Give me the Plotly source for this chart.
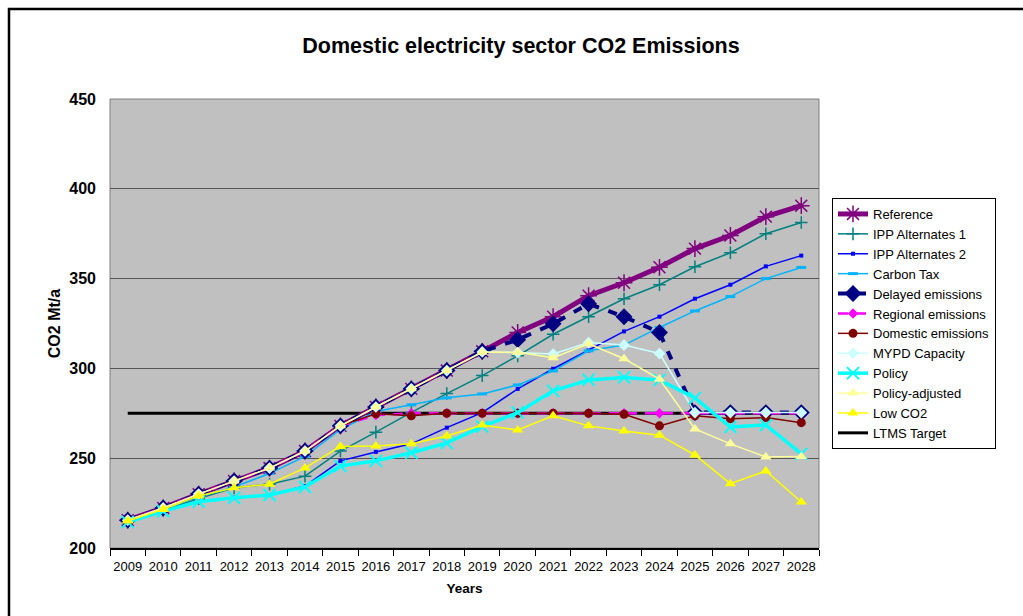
import plotly.graph_objects as go

years = [str(y) for y in range(2009, 2029)]

reference = [215.5, 222.3, 230.0, 237.3, 244.5, 254.0, 268.0, 278.5, 288.6, 298.8,
             309.5, 320.0, 328.8, 340.5, 347.7, 356.3, 366.7, 374.0, 384.5, 390.6]
ipp_alt1 = [215.0, 221.0, 227.5, 233.5, 235.5, 240.0, 254.0, 264.5, 275.5, 286.0,
            296.0, 307.0, 319.0, 328.8, 338.8, 346.6, 356.6, 364.4, 375.0, 381.2]
ipp_alt2 = [214.5, 220.5, 226.0, 228.0, 229.5, 234.5, 248.5, 253.5, 258.0, 267.0,
            275.4, 288.6, 299.8, 310.0, 320.6, 328.8, 338.8, 346.6, 356.8, 362.8]
carbon_tax = [215.0, 221.5, 228.5, 234.0, 241.5, 251.0, 266.0, 276.0, 279.7, 283.6,
              285.8, 290.8, 298.6, 309.8, 313.0, 322.8, 332.0, 340.0, 350.0, 356.2]
delayed = [215.5, 222.3, 230.0, 237.3, 244.5, 254.0, 268.0, 278.5, 288.6, 298.8,
           309.5, 316.0, 324.8, 336.0, 328.8, 320.0, 275.4, 275.4, 275.4, 275.4]
regional = [215.5, 222.3, 230.0, 237.3, 244.5, 254.0, 268.0, 274.0, 275.0, 275.0,
            275.0, 275.0, 275.0, 275.0, 275.0, 275.0, 275.0, 275.0, 275.0, 275.0]
domestic = [215.5, 222.3, 230.0, 237.3, 244.5, 254.0, 268.0, 274.7, 273.6, 275.0,
            275.0, 275.0, 275.0, 275.0, 274.5, 268.0, 273.6, 272.0, 272.6, 269.8]
mypd = [215.5, 222.3, 230.0, 237.3, 244.5, 254.0, 268.0, 278.5, 288.6, 298.8,
        309.2, 308.8, 308.0, 314.4, 313.0, 308.3, 275.4, 275.4, 275.4, 275.4]
policy = [214.5, 220.5, 225.8, 228.0, 229.5, 234.0, 245.7, 248.5, 253.0, 258.5,
          267.6, 275.4, 287.5, 293.6, 295.0, 293.6, 283.6, 267.4, 268.5, 252.4]
policy_adj = [215.5, 222.3, 230.0, 237.3, 244.5, 254.0, 268.0, 278.5, 288.6, 298.8,
              309.0, 309.0, 305.9, 313.7, 305.4, 294.0, 266.3, 258.0, 250.7, 251.0]
low_co2 = [215.0, 221.5, 229.0, 233.5, 235.5, 244.6, 256.5, 256.8, 258.0, 262.4,
           268.5, 265.7, 273.6, 268.0, 265.2, 262.8, 251.8, 235.8, 242.9, 225.6]
ltms = [275, 275, 275, 275, 275, 275, 275, 275, 275, 275,
        275, 275, 275, 275, 275, 275, 275, 275, 275, 275]

FONT = "Liberation Sans, Arial, sans-serif"

fig = go.Figure()

# LTMS drawn first (under markers), but listed last in legend
fig.add_trace(go.Scatter(x=years, y=ltms, name="LTMS Target", mode="lines",
                         line=dict(color="black", width=3), legendrank=12))

series = [
    ("Reference", reference, dict(color="#800080", width=5),
     dict(symbol="asterisk-open", size=14, line=dict(color="#800080", width=1.5)), 1),
    ("IPP Alternates 1", ipp_alt1, dict(color="#008080", width=1.5),
     dict(symbol="cross-thin-open", size=9, line=dict(color="#008080", width=1.5)), 2),
    ("IPP Alternates 2", ipp_alt2, dict(color="#0000FF", width=1.5),
     dict(symbol="square", size=4, color="#0000FF"), 3),
    ("Carbon Tax", carbon_tax, dict(color="#00B4FF", width=1.5),
     dict(symbol="line-ew-open", size=7, line=dict(color="#00B4FF", width=3)), 4),
    ("Delayed emissions", delayed, dict(color="#000080", width=4, dash="9px,10px"),
     dict(symbol="diamond", size=13, color="#000080"), 5),
    ("Regional emissions", regional, dict(color="#FF00FF", width=2.5, dash="10px,8px"),
     dict(symbol="diamond", size=8, color="#FF00FF"), 6),
    ("Domestic emissions", domestic, dict(color="#800000", width=1.5),
     dict(symbol="circle", size=9, color="#800000"), 7),
    ("MYPD Capacity", mypd, dict(color="#CCFFFF", width=1.5),
     dict(symbol="diamond", size=9, color="#CCFFFF"), 8),
    ("Policy", policy, dict(color="#00FFFF", width=3.5),
     dict(symbol="x-thin-open", size=12, line=dict(color="#00FFFF", width=2)), 9),
    ("Policy-adjusted", policy_adj, dict(color="#FFFF99", width=1.5),
     dict(symbol="triangle-up", size=10, color="#FFFF99"), 10),
    ("Low CO2", low_co2, dict(color="#FFFF00", width=1.5),
     dict(symbol="triangle-up", size=10, color="#FFFF00"), 11),
]

for name, vals, ln, mk, rank in series:
    fig.add_trace(go.Scatter(x=years, y=vals, name=name, mode="lines+markers",
                             line=ln, marker=mk, legendrank=rank))

L, R, T, B = 110, 819, 99, 548
W, H = 1023, 616
pw, ph = R - L, B - T

def px(x):
    return (x - L) / pw

def py(y):
    return (B - y) / ph

fig.update_layout(
    width=W, height=H,
    margin=dict(l=L, r=W - R, t=T, b=H - B, pad=0),
    paper_bgcolor="white",
    plot_bgcolor="#C0C0C0",
    font=dict(family=FONT, color="black"),
    title=dict(text="<b>Domestic electricity sector CO2 Emissions</b>",
               font=dict(size=21.5, family=FONT, color="black"),
               x=521 / W, xanchor="center", y=1 - 45 / H, yanchor="middle"),
    showlegend=True,
    legend=dict(x=px(832), xanchor="left", y=py(198), yanchor="top",
                bgcolor="white", bordercolor="black", borderwidth=1,
                font=dict(size=13, family=FONT, color="black"),
                traceorder="normal"),
    xaxis=dict(type="category", range=[-0.5, 19.5], showgrid=False,
               showline=True, linecolor="black", linewidth=1.5,
               ticks="outside", tickson="boundaries", ticklen=6, tickcolor="black",
               tickangle=0, ticklabelstandoff=6,
               tickfont=dict(size=13, family=FONT, color="black"),
               title=dict(text="<b>Years</b>", font=dict(size=13.5, family=FONT), standoff=10),
               zeroline=False),
    yaxis=dict(range=[200, 450], dtick=50, showgrid=True, gridcolor="#555555", gridwidth=1,
               showline=False, ticks="", ticklabelstandoff=13,
               tickfont=dict(size=16, family=FONT, color="black", weight="bold"),
               title=dict(text="<b>CO2 Mt/a</b>", font=dict(size=16, family=FONT), standoff=4),
               zeroline=False),
    shapes=[
        dict(type="rect", xref="paper", yref="paper", x0=0, x1=1, y0=0, y1=1,
             line=dict(color="#808080", width=1), layer="below"),
        dict(type="rect", xref="paper", yref="paper", x0=px(9), x1=px(1040),
             y0=py(640), y1=py(9), line=dict(color="black", width=2.5), layer="above"),
    ],
)

fig.write_html("out.html")
